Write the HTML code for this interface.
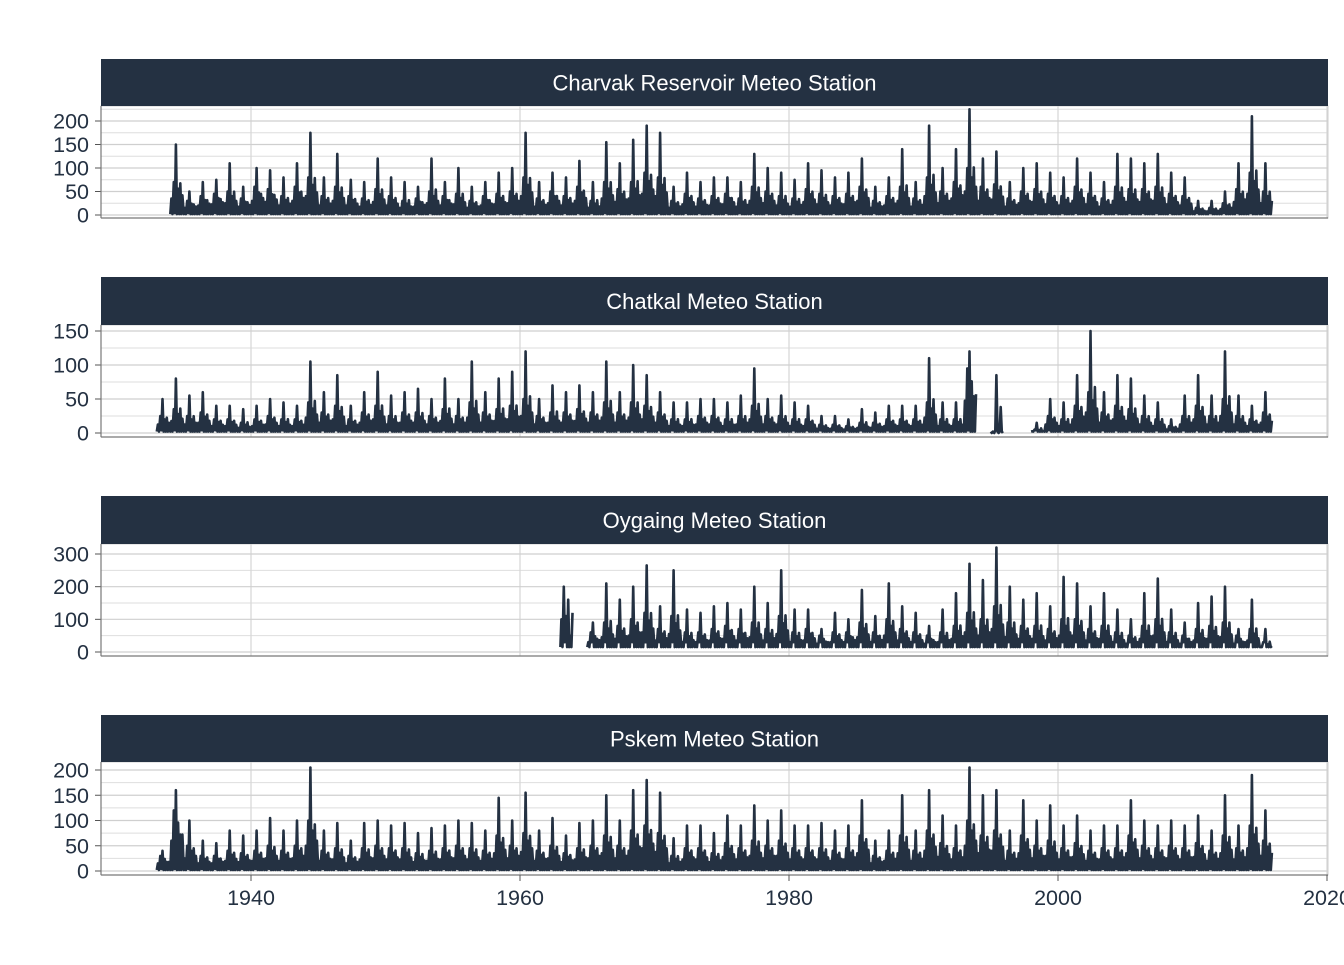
<!DOCTYPE html>
<html><head><meta charset="utf-8"><style>
body{margin:0;background:#fff;}
svg text{font-family:"Liberation Sans",sans-serif;}
</style></head><body>
<svg id="chart" width="1344" height="960" xmlns="http://www.w3.org/2000/svg"></svg>
<script>
// ---- data (per-year peak and secondary values) ----
const stationNames = ["Charvak Reservoir Meteo Station","Chatkal Meteo Station","Oygaing Meteo Station","Pskem Meteo Station"];
const xTicks = [1940,1960,1980,2000,2020];

const charvakStart = 1934;
const charvakPeak = [150,50,70,75,110,60,100,95,80,110,175,80,130,75,70,120,80,70,60,120,70,100,60,70,90,100,175,70,90,80,115,70,155,110,160,190,175,60,90,70,80,80,70,130,100,90,75,110,95,80,90,120,60,80,140,70,190,100,140,225,120,135,70,100,110,90,80,120,90,70,130,120,110,130,90,80,30,30,50,110,210,110];
const charvakSecond = [70,30,40,45,50,35,60,55,40,60,80,40,60,40,35,55,40,30,35,50,40,45,30,40,45,50,80,35,50,40,60,30,70,55,70,90,80,30,45,35,40,45,35,60,50,40,35,55,45,40,45,60,30,40,60,35,80,50,70,100,60,65,35,50,55,45,40,60,45,35,60,55,55,60,45,40,15,15,25,55,90,50];
const charvakTicks = [0,50,100,150,200];

const chatkalStart = 1933;
const chatkalPeak = [50,80,55,60,40,40,35,40,50,45,40,105,60,85,40,60,90,55,60,65,50,80,50,105,60,80,90,120,50,70,60,70,60,105,60,100,85,60,45,45,50,50,45,55,95,50,55,45,40,25,25,20,35,30,40,40,40,110,45,45,120,null,85,null,null,15,50,45,85,150,60,85,80,55,45,20,55,85,55,120,55,40,60];
const chatkalSecond = [25,35,25,30,20,20,15,20,25,20,20,45,30,40,20,30,40,25,30,30,25,35,25,45,30,35,40,50,25,30,30,35,30,45,30,45,40,30,20,20,25,25,20,25,40,25,25,20,20,12,12,10,15,15,20,20,20,45,20,20,95,null,0,null,null,5,25,20,40,60,30,40,35,25,20,10,25,40,25,50,25,20,30];
const chatkalTicks = [0,50,100,150];

const oygaingStart = 1963;
const oygaingPeak = [110,null,90,210,160,200,265,140,250,130,120,140,150,130,200,150,250,130,130,70,120,100,190,110,210,140,120,80,130,180,270,220,320,200,160,180,140,230,210,140,180,130,100,180,225,130,90,150,170,200,70,160,70];
const oygaingSecond = [200,null,60,90,80,100,120,70,110,60,60,70,80,70,90,70,110,60,70,50,60,60,90,60,100,70,60,50,60,80,120,100,140,90,80,80,70,100,100,70,80,60,50,80,100,60,50,70,80,90,50,70,30];
const oygaingTicks = [0,100,200,300];

const pskemStart = 1933;
const pskemPeak = [40,160,100,60,55,80,70,80,105,80,100,205,80,95,60,95,100,90,95,75,85,90,100,95,80,145,100,155,80,105,70,95,100,150,100,160,180,155,65,90,90,75,110,90,130,100,120,90,90,95,80,90,140,60,80,150,80,160,110,90,205,150,160,80,140,100,130,90,110,80,90,90,140,100,90,100,90,110,80,150,90,190,120];
const pskemSecond = [30,120,50,30,30,40,35,40,50,40,50,100,40,45,30,45,50,45,45,35,40,45,50,45,40,70,50,75,40,50,35,45,50,70,50,80,90,75,30,45,45,35,55,45,60,50,60,45,45,45,40,45,70,30,40,70,40,80,55,45,100,70,80,40,70,50,60,45,55,40,45,45,70,50,45,50,45,55,40,70,45,90,60];
const pskemTicks = [0,50,100,150,200];

const NS="http://www.w3.org/2000/svg";
const svg=document.getElementById('chart');
const INK="#243142";
const X0=101,X1=1328;
function xScale(yr){return 251+(yr-1940)*(1327-251)/80;}
function mk(tag,attrs,parent){const e=document.createElementNS(NS,tag);for(const k in attrs)e.setAttribute(k,attrs[k]);(parent||svg).appendChild(e);return e;}

const panels=[
 {start:charvakStart,peak:charvakPeak,second:charvakSecond,ticks:charvakTicks,base:2,stripTop:59,top:106,bottom:218,zeroY:215,refV:200,refY:121,slug:'charvak'},
 {start:chatkalStart,peak:chatkalPeak,second:chatkalSecond,ticks:chatkalTicks,base:2,stripTop:277,top:325,bottom:437,zeroY:433,refV:150,refY:331,slug:'chatkal'},
 {start:oygaingStart,peak:oygaingPeak,second:oygaingSecond,ticks:oygaingTicks,base:15,stripTop:496,top:544,bottom:656,zeroY:652,refV:300,refY:554,slug:'oygaing'},
 {start:pskemStart,peak:pskemPeak,second:pskemSecond,ticks:pskemTicks,base:2,stripTop:715,top:762,bottom:875,zeroY:871,refV:200,refY:770,slug:'pskem'}
];

panels.forEach((p,pi)=>{
  const g=mk('g',{});
  
  
  const yScale=v=>p.zeroY+(p.refY-p.zeroY)*v/p.refV;
  for(let i=0;i<p.ticks.length;i++){
    const mv=p.ticks[i]+(p.ticks[1]-p.ticks[0])/2;
    const my=yScale(mv);
    if(my>p.top) mk('line',{x1:X0,x2:X1,y1:my,y2:my,stroke:'#dedede','stroke-width':1},g);
  }
  xTicks.forEach(t=>{const x=xScale(t);mk('line',{x1:x,x2:x,y1:p.top,y2:p.bottom,stroke:'#d6d6d6','stroke-width':1.2},g);});
  p.ticks.forEach(t=>{
    const y=yScale(t);
    const gl=mk('line',{x1:X0,x2:X1,y1:y,y2:y,stroke:'#cfcfcf','stroke-width':1.2},g);
    
    mk('line',{x1:95,x2:X0,y1:y,y2:y,stroke:'#555','stroke-width':1},g);
    const tx=mk('text',{x:89,y:y+7.5,'text-anchor':'end','font-size':21.5,fill:INK},g);
    tx.textContent=t;
    
    
  });
  mk('rect',{x:X0,y:p.top,width:X1-X0,height:p.bottom-p.top,fill:'none',stroke:'#cfcfcf','stroke-width':1},g);
  mk('line',{x1:X0,x2:X0,y1:p.top,y2:p.bottom,stroke:'#777','stroke-width':1.2},g);
  mk('line',{x1:X0,x2:X1,y1:p.bottom,y2:p.bottom,stroke:'#777','stroke-width':1.2},g);
  const st=mk('rect',{x:X0,y:p.stripTop,width:X1-X0,height:p.top-p.stripTop,fill:INK},g);
  
  
  const tt=mk('text',{x:(X0+X1)/2,y:(p.stripTop+p.top)/2+8,'text-anchor':'middle','font-size':22,fill:'#fff'},g);
  tt.textContent=stationNames[pi];
  
  
  let segs=[],cur=[];
  p.peak.forEach((v,i)=>{
    const yr=p.start+i;
    if(v===null){if(cur.length)segs.push(cur);cur=[];return;}
    const s=p.second[i],b=p.base;
    cur.push([yr+0.0,b],[yr+0.08,s*0.5],[yr+0.16,b],[yr+0.26,s],[yr+0.34,b*2],[yr+0.42,v],[yr+0.5,b],[yr+0.58,s*0.8],[yr+0.66,b],[yr+0.74,v*0.45],[yr+0.82,b],[yr+0.9,s*0.6]);
  });
  if(cur.length)segs.push(cur);
  segs.forEach(sg=>{
    const d=sg.map((pt,j)=>(j?'L':'M')+xScale(pt[0]).toFixed(1)+','+yScale(pt[1]).toFixed(1)).join('');
    const path=mk('path',{d:d,fill:'none',stroke:INK,'stroke-width':2.6,'stroke-linejoin':'round'},g);
    
    
  });
});
xTicks.forEach(t=>{
  const x=xScale(t);
  mk('line',{x1:x,x2:x,y1:875,y2:881,stroke:'#555','stroke-width':1});
  const tx=mk('text',{x:x,y:905,'text-anchor':'middle','font-size':21.5,fill:INK});
  tx.textContent=t;
  
  
});
</script>
</body></html>
